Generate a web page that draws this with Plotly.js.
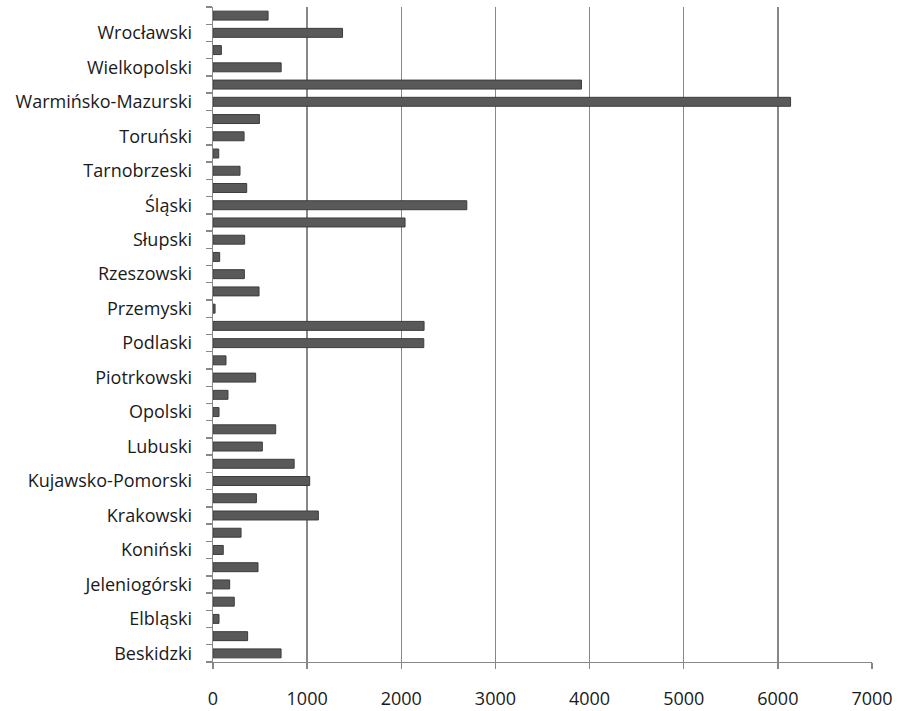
<!DOCTYPE html>
<html>
<head>
<meta charset="utf-8">
<script src="https://cdn.plot.ly/plotly-3.0.1.min.js"></script>
<style>html,body{margin:0;padding:0;background:#fff;}#chart{width:898px;height:711px;}</style>
</head>
<body>
<div id="chart"></div>
<script>
// Categories, bottom to top (labels shown on every other category)
var categories = [
  "Beskidzki","Częstochowski","Elbląski","Gdański","Jeleniogórski","Kaliski",
  "Koniński","Koszaliński","Krakowski","Krośnieński","Kujawsko-Pomorski","Legnicki",
  "Lubuski","Łódzki","Opolski","Ostrołęcki","Piotrkowski","Płocki",
  "Podlaski","Poznański","Przemyski","Radomski","Rzeszowski","Siedlecki",
  "Słupski","Suwalski","Śląski","Świętokrzyski","Tarnobrzeski","Tarnowski",
  "Toruński","Wałbrzyski","Warmińsko-Mazurski","Warszawski","Wielkopolski","Włocławski",
  "Wrocławski","Zachodniopomorski"
];
var values = [
  723, 368, 64, 226, 177, 478,
  109, 298, 1119, 461, 1027, 862,
  524, 666, 64, 159, 453, 138,
  2239, 2242, 22, 489, 333, 71,
  336, 2040, 2696, 358, 287, 61,
  330, 493, 6135, 3914, 724, 89,
  1376, 585
];
var xTickValues = [0, 1000, 2000, 3000, 4000, 5000, 6000, 7000];

var idx = categories.map(function(_, i){ return i; });
var labelIdx = idx.filter(function(i){ return i % 2 === 0; });
var labelText = labelIdx.map(function(i){ return categories[i]; });
var boundaries = [];
for (var b = 0; b <= categories.length; b++) boundaries.push(b - 0.5);

var trace = {
  type: 'bar',
  orientation: 'h',
  x: values,
  y: idx,
  hovertext: categories,
  textposition: 'none',
  hoverinfo: 'text+x',
  marker: {color: '#595959', line: {color: '#3c3c3c', width: 1}}
};

var FONT = 'Open Sans, sans-serif';
var GRID = '#888888';
var layout = {
  width: 898, height: 711,
  margin: {l: 213, r: 26, t: 7, b: 49},
  paper_bgcolor: '#ffffff', plot_bgcolor: '#ffffff',
  bargap: 0.48,
  showlegend: false,
  font: {family: FONT, size: 18, color: '#1a1a1a'},
  xaxis: {
    range: [0, 7000],
    tickvals: xTickValues,
    ticktext: xTickValues.map(String),
    showgrid: true, gridcolor: GRID, gridwidth: 1.4,
    zeroline: false,
    showline: true, linecolor: GRID, linewidth: 1.4,
    ticks: 'outside', ticklen: 6, tickcolor: GRID, tickwidth: 1.4,
    ticklabelstandoff: 14,
    tickfont: {family: FONT, size: 18, color: '#1a1a1a'},
    fixedrange: true
  },
  yaxis: {
    range: [-0.5, categories.length - 0.5],
    tickvals: labelIdx,
    ticktext: labelText,
    ticks: '',
    showgrid: false, zeroline: false,
    showline: true, linecolor: GRID, linewidth: 1.4,
    ticklabelstandoff: 16,
    minor: {tickvals: boundaries, ticks: 'outside', ticklen: 6, tickcolor: GRID, tickwidth: 1.4, showgrid: false},
    tickfont: {family: FONT, size: 18, color: '#1a1a1a'},
    fixedrange: true
  }
};

Plotly.newPlot('chart', [trace], layout, {displayModeBar: false, staticPlot: true});
</script>
</body>
</html>
